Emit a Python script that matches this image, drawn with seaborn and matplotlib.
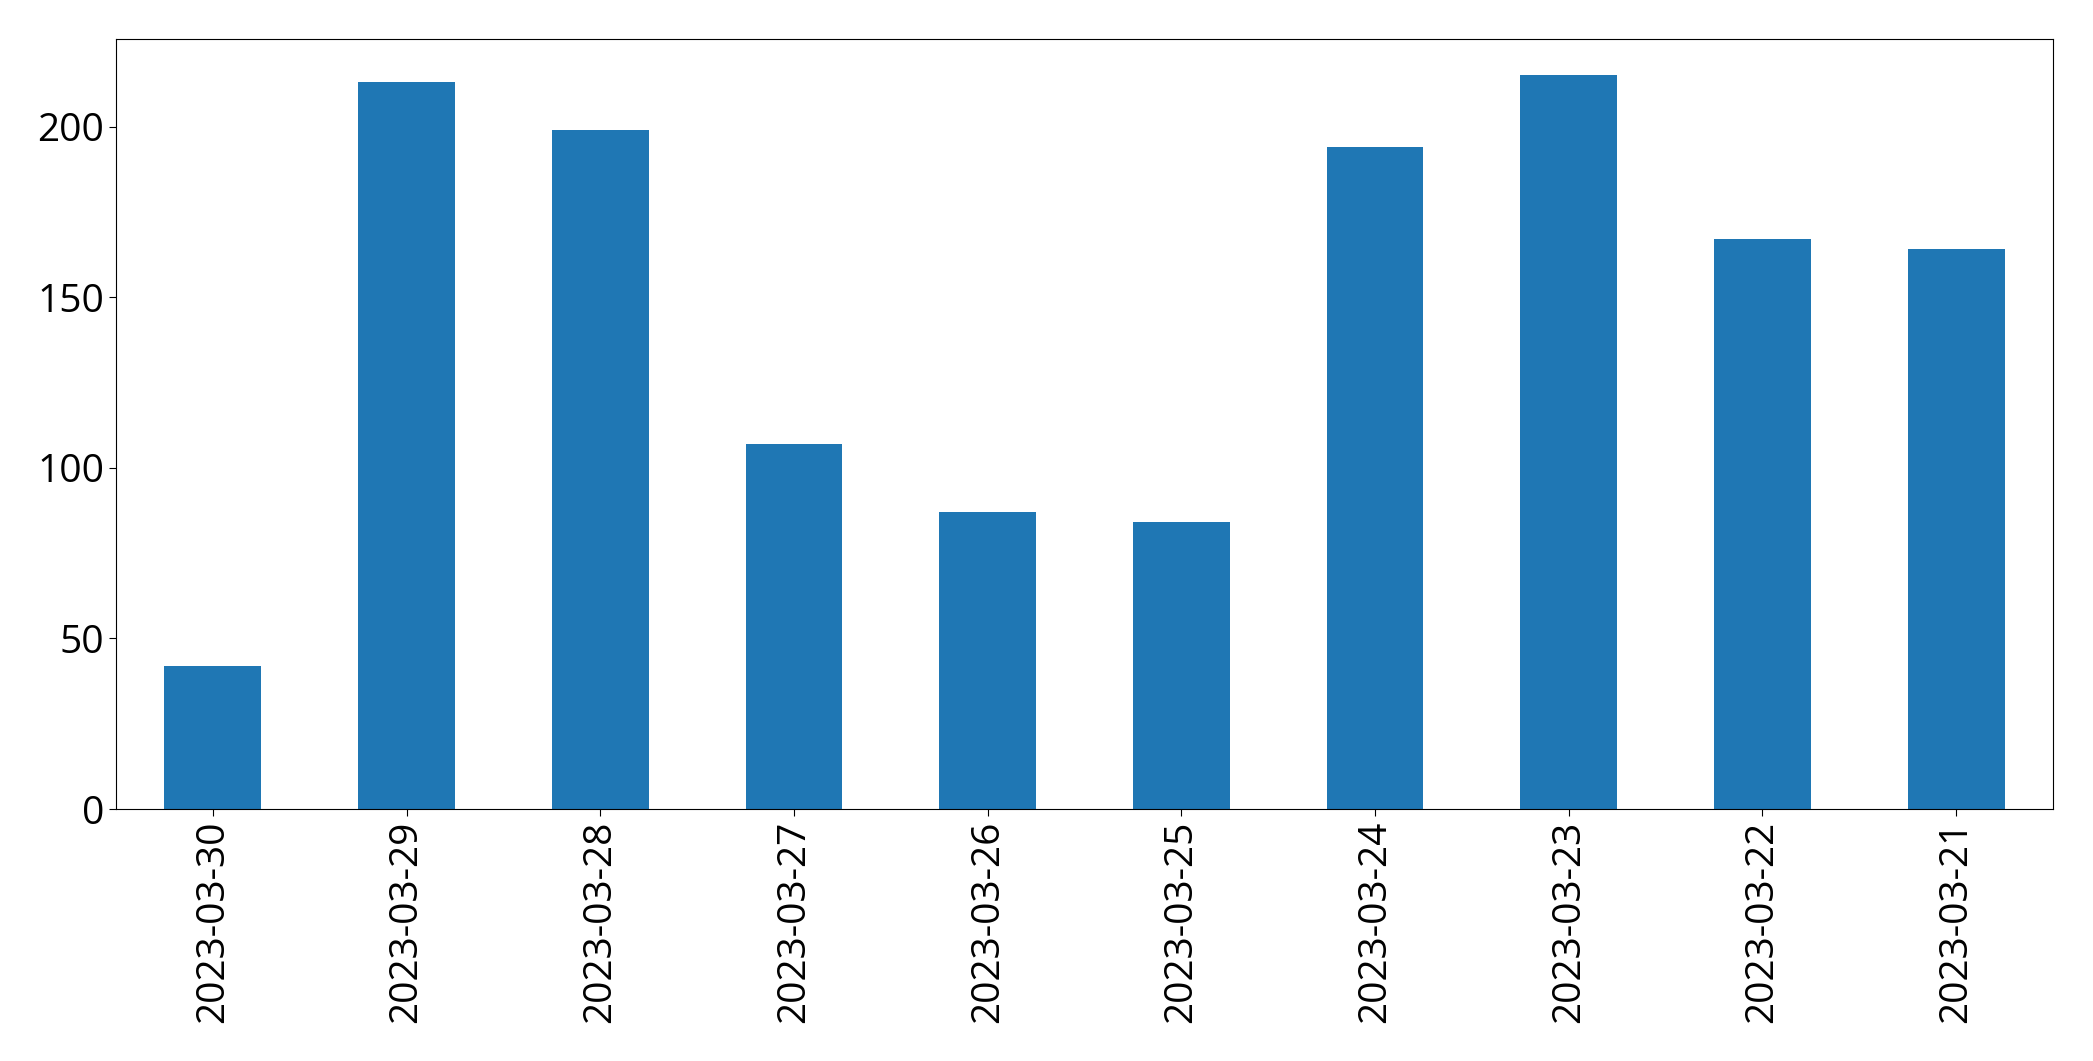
import matplotlib
matplotlib.use("Agg")
import matplotlib.pyplot as plt
import seaborn as sns
import pandas as pd

dates = ["2023-03-30", "2023-03-29", "2023-03-28", "2023-03-27", "2023-03-26",
         "2023-03-25", "2023-03-24", "2023-03-23", "2023-03-22", "2023-03-21"]
counts = [42, 213, 199, 107, 87, 84, 194, 215, 167, 164]

df = pd.DataFrame({"date": dates, "count": counts})

plt.rcParams["font.family"] = ["Open Sans", "DejaVu Sans"]

fig = plt.figure(figsize=(20.93, 10.61), dpi=100)
ax = fig.add_axes([0.0554, 0.2375, 0.9255, 0.726])
sns.barplot(data=df, x="date", y="count", order=dates, color="#1f77b4",
            saturation=1, width=0.5, ax=ax)
ax.set_xlabel("")
ax.set_ylabel("")
ax.margins(y=0.05)
ax.set_xlim(-0.5, len(dates) - 0.5)
ax.tick_params(axis="both", labelsize=28, length=5)
plt.setp(ax.get_xticklabels(), rotation=90)

fig.savefig("out.png", dpi=100)
